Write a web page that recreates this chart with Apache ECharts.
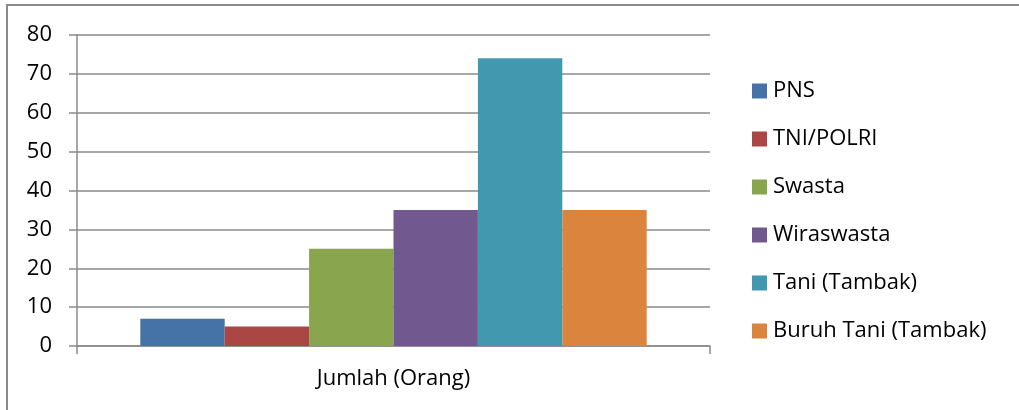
<!DOCTYPE html>
<html>
<head>
<meta charset="utf-8">
<script src="https://cdn.jsdelivr.net/npm/echarts@6/dist/echarts.min.js"></script>
<style>
html,body{margin:0;padding:0;background:#fff;}
#frame{position:absolute;left:0;top:0;width:1019px;height:410px;}
#border{position:absolute;left:6px;top:4px;width:1013px;height:406px;border-left:2px solid #8a8a8a;border-top:2px solid #8a8a8a;box-sizing:border-box;}
#chart{position:absolute;left:0;top:0;width:1019px;height:410px;}
</style>
</head>
<body>
<div id="frame"><div id="border"></div><div id="chart"></div></div>
<script>
const categories = ['Jumlah (Orang)'];
const seriesNames = ['PNS', 'TNI/POLRI', 'Swasta', 'Wiraswasta', 'Tani (Tambak)', 'Buruh Tani (Tambak)'];
const pns = [7];
const tniPolri = [5];
const swasta = [25];
const wiraswasta = [35];
const tani = [74];
const buruhTani = [35];
const yTicks = [0, 10, 20, 30, 40, 50, 60, 70, 80];

const colors = ['#4572A7', '#AA4643', '#89A54E', '#71588F', '#4198AF', '#DB843D'];
const values = [pns, tniPolri, swasta, wiraswasta, tani, buruhTani];
const font = '"Open Sans", sans-serif';

const chart = echarts.init(document.getElementById('chart'), null, {renderer: 'canvas'});
chart.setOption({
  backgroundColor: 'transparent',
  animation: false,
  color: colors,
  textStyle: {fontFamily: font},
  grid: {left: 77, right: 309, top: 35, bottom: 64, containLabel: false},
  legend: {
    orient: 'vertical',
    left: 752,
    top: 77,
    padding: 0,
    itemWidth: 15,
    itemHeight: 15,
    itemGap: 20,
    icon: 'rect',
    textStyle: {fontSize: 22, color: '#000', fontFamily: font, padding: [0, 0, 0, 1], lineHeight: 28},
    data: seriesNames
  },
  xAxis: {
    type: 'category',
    data: categories,
    axisLine: {lineStyle: {color: '#8a8a8a', width: 1.5}},
    axisTick: {show: true, length: 8, lineStyle: {color: '#8a8a8a', width: 1.5}},
    axisLabel: {fontSize: 22, color: '#000', margin: 22, fontFamily: font}
  },
  yAxis: {
    type: 'value',
    min: yTicks[0],
    max: yTicks[yTicks.length - 1],
    interval: 10,
    axisLine: {show: true, lineStyle: {color: '#8a8a8a', width: 1.5}},
    axisTick: {show: true, inside: false, length: 8, lineStyle: {color: '#8a8a8a', width: 1.5}},
    splitLine: {show: true, lineStyle: {color: '#8a8a8a', width: 1.5}},
    axisLabel: {fontSize: 22, color: '#000', margin: 25, fontFamily: font}
  },
  series: seriesNames.map((n, i) => ({
    name: n,
    type: 'bar',
    data: values[i],
    barGap: '0%',
    barCategoryGap: '20%',
    itemStyle: {color: colors[i]}
  }))
});
</script>
</body>
</html>
